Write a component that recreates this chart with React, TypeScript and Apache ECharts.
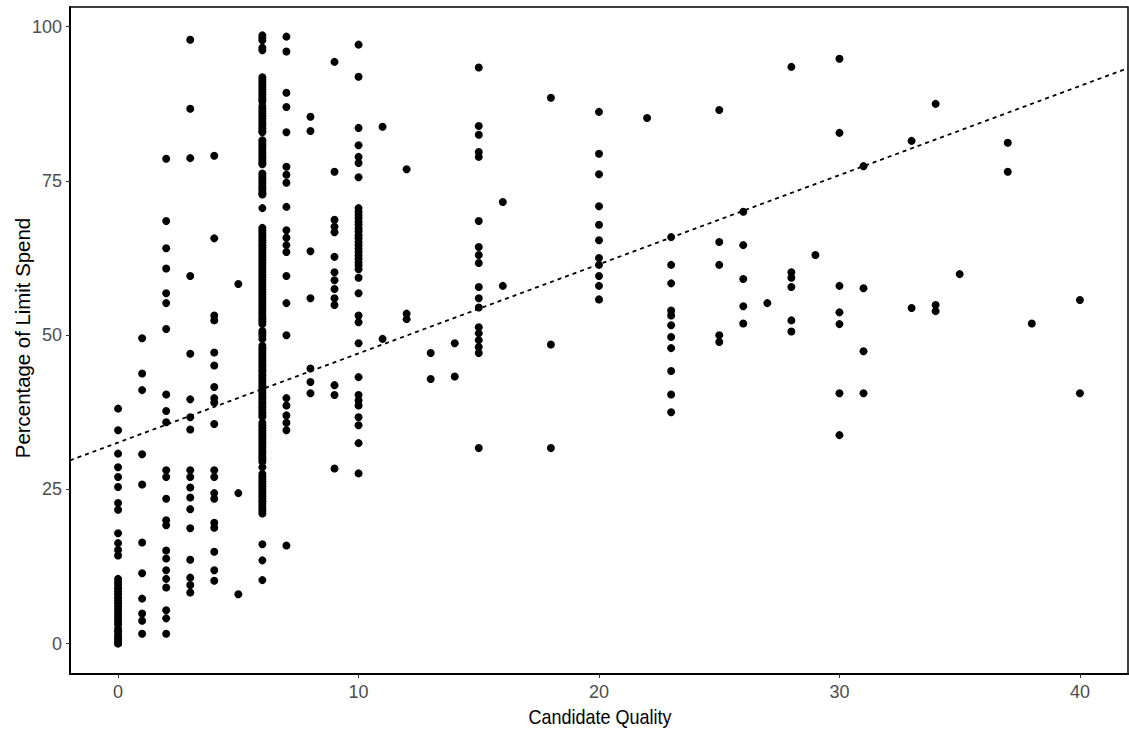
import React, { useEffect, useRef } from "react";
import * as echarts from "echarts";

// Candidate quality score (x) for each group of observations, with the
// percentage of the spending limit used (y) by every observation in the group.
const quality0 = [38.1, 34.6, 30.8, 28.6, 27.0, 25.4, 22.8, 21.7, 17.9, 16.3, 15.2, 14.3, 10.5, 10.0, 9.5, 9.0, 8.5, 8.0, 7.5, 7.0, 6.5, 6.0, 5.5, 5.0, 4.5, 4.0, 3.5, 3.1, 2.4, 2.0, 1.5, 1.0, 0.6, 0.2, 0.0];
const quality1 = [49.5, 43.8, 41.1, 30.7, 25.8, 16.4, 11.4, 7.3, 4.9, 3.7, 1.6];
const quality2 = [78.6, 68.5, 64.1, 60.8, 56.8, 55.2, 51.0, 40.4, 37.7, 35.9, 28.1, 27.0, 23.5, 20.0, 19.2, 15.1, 13.8, 11.9, 10.5, 9.1, 5.4, 4.1, 1.6];
const quality3 = [97.9, 86.7, 78.7, 59.6, 47.0, 39.6, 36.7, 34.7, 28.1, 27.0, 25.3, 23.7, 21.8, 18.7, 13.6, 10.7, 9.5, 8.3];
const quality4 = [79.1, 65.7, 53.2, 52.4, 47.2, 45.1, 41.6, 39.8, 39.1, 35.6, 28.1, 27.0, 24.4, 23.5, 19.6, 18.8, 14.9, 11.9, 10.2];
const quality5 = [58.3, 24.4, 8.0];
const quality6 = [
  98.6, 98.2, 97.8, 96.6, 96.2,
  91.8, 91.4, 91.0, 90.6, 90.2, 89.8, 89.4, 89.0, 88.6, 88.2, 87.9,
  87.1, 86.7, 86.3, 85.9, 85.5, 85.1, 84.7, 84.3, 83.9, 83.5, 83.1, 82.9,
  81.6, 81.2, 80.8, 80.4, 80.0, 79.6, 79.2, 78.8, 78.4, 78.0, 77.7,
  76.2, 75.8, 75.4, 75.0, 74.6, 74.2, 73.8, 73.4, 73.0, 72.8,
  70.6,
  67.4, 67.0, 66.6, 66.2, 65.8, 65.4, 65.0, 64.6, 64.2, 63.8, 63.4, 63.0, 62.6, 62.2, 61.8, 61.4,
  61.0, 60.6, 60.2, 59.8, 59.4, 59.0, 58.6, 58.2, 57.8, 57.4, 57.0, 56.6, 56.2, 55.8, 55.4, 55.0,
  54.6, 54.2, 53.8, 53.4, 53.0, 52.6, 52.2, 51.8,
  50.7, 50.3, 49.9, 49.4,
  48.3, 47.9, 47.5, 47.1, 46.7, 46.3, 45.9, 45.5, 45.1, 44.7, 44.3, 43.9, 43.5, 43.1, 42.7, 42.3,
  41.9, 41.5, 41.1, 40.7, 40.3, 39.9, 39.5, 39.1, 38.7, 38.3, 37.9, 37.5, 37.1, 36.8,
  35.8, 35.4, 35.0, 34.6, 34.2, 33.8, 33.4, 33.0, 32.6, 32.2, 31.8, 31.4, 31.0, 30.6, 30.2, 29.8, 29.5,
  28.6,
  27.5, 27.1, 26.7, 26.3, 25.9, 25.5, 25.1, 24.7, 24.3, 23.9, 23.5, 23.1, 22.7, 22.3, 21.9, 21.5, 21.1,
  16.1, 13.5, 10.3,
];
const quality7 = [98.4, 96.0, 89.3, 87.0, 82.9, 77.3, 76.0, 74.7, 70.8, 67.0, 65.8, 64.6, 63.5, 59.6, 55.2, 50.0, 39.8, 38.6, 37.0, 35.8, 34.6, 15.9];
const quality8 = [85.4, 83.1, 63.6, 56.0, 44.6, 42.4, 40.6];
const quality9 = [94.3, 76.5, 68.7, 67.6, 66.7, 62.7, 60.2, 58.9, 57.5, 56.0, 54.9, 41.9, 40.3, 28.4];
const quality10 = [97.1, 91.9, 83.6, 80.8, 78.9, 77.9, 75.6, 70.6, 70.0, 69.5, 69.0, 68.4, 67.9, 67.3, 66.8, 66.2, 65.7, 65.1, 64.6, 64.0, 63.5, 62.9, 62.4, 61.8, 61.3, 60.7, 59.3, 56.8, 53.2, 52.1, 48.7, 43.2, 40.3, 39.4, 38.6, 36.7, 35.4, 32.5, 27.6];
const quality11 = [83.8, 49.4];
const quality12 = [76.9, 53.5, 52.6];
const quality13 = [47.1, 42.9];
const quality14 = [48.7, 43.3];
const quality15 = [93.4, 83.9, 82.5, 79.7, 78.9, 68.5, 64.3, 63.0, 61.7, 57.8, 56.0, 54.5, 51.3, 50.3, 49.2, 48.1, 47.1, 31.7];
const quality16 = [71.6, 58.0];
const quality18 = [88.5, 48.5, 31.7];
const quality20 = [86.2, 79.4, 76.1, 70.9, 67.9, 65.4, 62.5, 61.4, 59.6, 58.0, 55.8];
const quality22 = [85.2];
const quality23 = [65.9, 61.4, 58.4, 54.0, 53.2, 51.6, 49.7, 47.9, 44.2, 40.4, 37.5];
const quality25 = [86.5, 65.1, 61.4, 50.0, 48.9];
const quality26 = [70.0, 64.6, 59.1, 54.7, 51.9];
const quality27 = [55.2];
const quality28 = [93.5, 60.2, 59.3, 57.8, 52.4, 50.6];
const quality29 = [63.0];
const quality30 = [94.8, 82.8, 58.0, 53.7, 51.8, 40.6, 33.8];
const quality31 = [77.4, 57.6, 47.4, 40.6];
const quality33 = [81.5, 54.4];
const quality34 = [87.5, 54.9, 53.9];
const quality35 = [59.9];
const quality37 = [81.2, 76.5];
const quality38 = [51.9];
const quality40 = [55.7, 40.6];

const groups: [number, number[]][] = [
  [0, quality0], [1, quality1], [2, quality2], [3, quality3], [4, quality4],
  [5, quality5], [6, quality6], [7, quality7], [8, quality8], [9, quality9],
  [10, quality10], [11, quality11], [12, quality12], [13, quality13], [14, quality14],
  [15, quality15], [16, quality16], [18, quality18], [20, quality20], [22, quality22],
  [23, quality23], [25, quality25], [26, quality26], [27, quality27], [28, quality28],
  [29, quality29], [30, quality30], [31, quality31], [33, quality33], [34, quality34],
  [35, quality35], [37, quality37], [38, quality38], [40, quality40],
];

// Linear fit drawn across the whole panel
const fitIntercept = 32.6;
const fitSlope = 1.445;
const xRange = [-2, 42];
const yRange = [-4.92, 103.2];
const xTicks = [0, 10, 20, 30, 40];
const yTicks = [0, 25, 50, 75, 100];

const FONT = "'Liberation Sans', Arial, sans-serif";

export default function App() {
  const ref = useRef<HTMLDivElement>(null);

  useEffect(() => {
    if (!ref.current) return;
    const chart = echarts.init(ref.current, undefined, { renderer: "svg" });

    const points: number[][] = [];
    groups.forEach(([q, values]) => values.forEach((v) => points.push([q, v])));
    const fitLine = xRange.map((x) => [x, fitIntercept + fitSlope * x]);

    chart.setOption({
      animation: false,
      backgroundColor: "#ffffff",
      grid: {
        left: 70,
        top: 7,
        width: 1058,
        height: 667,
        show: true,
        borderColor: "#000000",
        borderWidth: 1.5,
        backgroundColor: "transparent",
      },
      xAxis: {
        type: "value",
        min: xRange[0],
        max: xRange[1],
        axisLine: { show: true, onZero: false, lineStyle: { color: "#000000", width: 2 } },
        axisTick: {
          show: true,
          length: 4,
          customValues: xTicks,
          lineStyle: { color: "#333333", width: 1 },
        },
        axisLabel: {
          customValues: xTicks,
          color: "#4d4d4d",
          fontSize: 18,
          fontFamily: FONT,
          margin: 9,
        },
        splitLine: { show: false },
      },
      yAxis: {
        type: "value",
        min: yRange[0],
        max: yRange[1],
        axisLine: { show: true, onZero: false, lineStyle: { color: "#000000", width: 2 } },
        axisTick: {
          show: true,
          length: 4,
          customValues: yTicks,
          lineStyle: { color: "#333333", width: 1 },
        },
        axisLabel: {
          customValues: yTicks,
          color: "#4d4d4d",
          fontSize: 18,
          fontFamily: FONT,
          margin: 8,
        },
        splitLine: { show: false },
      },
      graphic: [
        {
          type: "text",
          x: 600,
          y: 716,
          scaleX: 0.9,
          scaleY: 1.05,
          style: {
            text: "Candidate Quality",
            fill: "#000000",
            font: `20px ${FONT}`,
            textAlign: "center",
            textVerticalAlign: "middle",
          },
        },
        {
          type: "text",
          x: 22,
          y: 338,
          rotation: Math.PI / 2,
          scaleX: 1.02,
          scaleY: 1.05,
          style: {
            text: "Percentage of Limit Spend",
            fill: "#000000",
            font: `20px ${FONT}`,
            textAlign: "center",
            textVerticalAlign: "middle",
          },
        },
      ],
      series: [
        {
          type: "scatter",
          data: points,
          symbol: "circle",
          symbolSize: 8,
          itemStyle: { color: "#000000", opacity: 1 },
          z: 2,
        },
        {
          type: "line",
          data: fitLine,
          showSymbol: false,
          symbol: "none",
          lineStyle: { color: "#000000", width: 1.8, type: [4, 4] },
          z: 3,
        },
      ],
    });

    return () => chart.dispose();
  }, []);

  return (
    <div
      ref={ref}
      style={{ position: "absolute", left: 0, top: 0, width: 1129, height: 734, background: "#fff" }}
    />
  );
}
